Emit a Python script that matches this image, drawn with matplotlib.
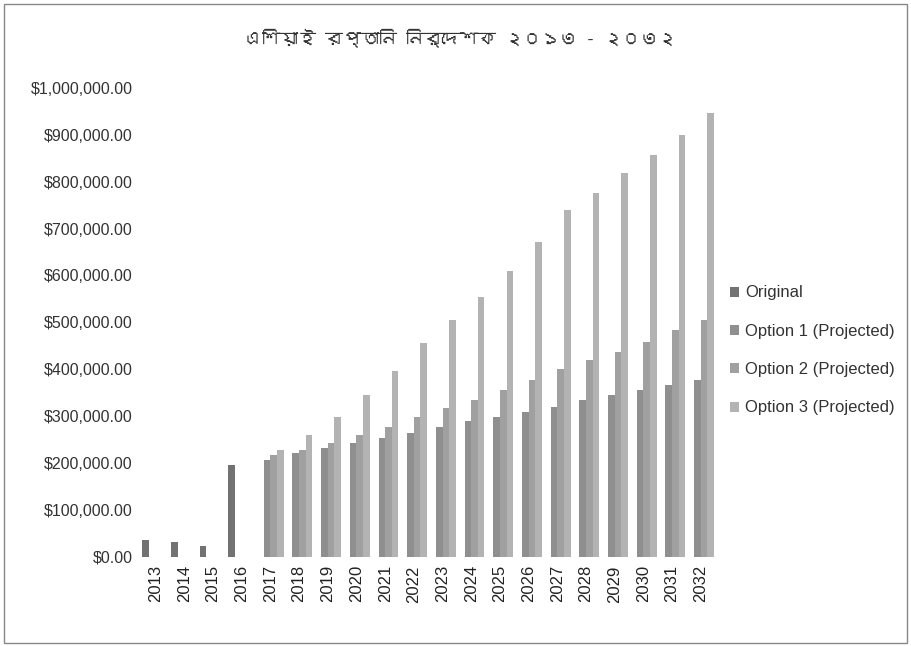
import numpy as np
import matplotlib
matplotlib.use("Agg")
import matplotlib.pyplot as plt
from matplotlib import font_manager
from matplotlib.ft2font import FT2Font
from matplotlib.patches import Rectangle

# data
years = [str(y) for y in range(2013, 2033)]
original = [35000, 32000, 23000, 196000] + [0] * 16
option1 = [0] * 4 + [207000, 222000, 232000, 243000, 254000, 264000, 276000, 290000,
                     299000, 309000, 320000, 335000, 345000, 356000, 367000, 377000]
option2 = [0] * 4 + [217000, 228000, 243000, 260000, 277000, 299000, 318000, 335000,
                     356000, 377000, 400000, 420000, 437000, 458000, 484000, 505000]
option3 = [0] * 4 + [228000, 260000, 299000, 345000, 397000, 456000, 505000, 554000,
                     609000, 671000, 740000, 776000, 819000, 857000, 900000, 947000]
series_names = ["Original", "Option 1 (Projected)", "Option 2 (Projected)", "Option 3 (Projected)"]
colors = ["#727272", "#8f8f8f", "#a0a0a0", "#b3b3b3"]
title = "এশিয়াই রপ্তানি নির্দেশক ২০১৩ - ২০৩২"


def bengali_font():
    # look for any installed font that actually has Bengali glyphs
    for f in font_manager.fontManager.ttflist:
        try:
            if FT2Font(f.fname).get_char_index(0x0995):
                return f.name
        except Exception:
            pass
    return None


plt.rcParams['font.family'] = ['Liberation Sans', 'DejaVu Sans']

fig = plt.figure(figsize=(9.11, 6.46), dpi=100)
ax = fig.add_axes([0.155, 0.138, 0.630, 0.726])

x = np.arange(len(years))
w = 0.23
for i, (vals, name, c) in enumerate(zip([original, option1, option2, option3], series_names, colors)):
    ax.bar(x + (i - 1.5) * w, vals, width=w, color=c, label=name)

ax.set_xlim(-0.5, len(years) - 0.5)
ax.set_ylim(0, 1000000)
ax.set_yticks(np.arange(0, 1000001, 100000))
ax.set_yticklabels([f"${v:,.2f}" for v in np.arange(0, 1000001, 100000)], fontsize=11.5, color="#333333")
ax.set_xticks(x)
ax.set_xticklabels(years, rotation=90, fontsize=12, color="#222222")
ax.tick_params(length=0, pad=6)
for s in ax.spines.values():
    s.set_visible(False)

bf = bengali_font()
fam = [bf, 'DejaVu Sans'] if bf else ['DejaVu Sans']
fig.text(0.505, 0.940, title, ha="center", va="center", fontsize=13, color="#333333", family=fam)

ax.legend(loc="center left", bbox_to_anchor=(1.0, 0.44), frameon=False, fontsize=12,
          handlelength=0.55, handleheight=0.55, handletextpad=0.35, labelspacing=1.4,
          labelcolor="#333333")

fig.add_artist(Rectangle((0.004, 0.004), 0.992, 0.99, transform=fig.transFigure,
                         fill=False, edgecolor="#888888", linewidth=1))

fig.savefig("out.png", dpi=100)
